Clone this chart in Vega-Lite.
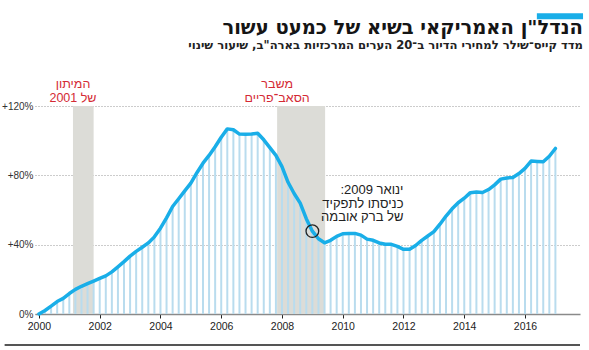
{
  "$schema": "https://vega.github.io/schema/vega-lite/v6.json",
  "width": 545,
  "height": 208,
  "autosize": {"type": "none"},
  "padding": {"left": 35, "top": 106, "right": 9, "bottom": 36},
  "background": "white",
  "config": {
    "view": {"stroke": null},
    "font": "Liberation Sans",
    "axis": {"labelFont": "Liberation Sans", "labelColor": "#333"}
  },
  "title": {
    "text": "הנדל\"ן האמריקאי בשיא של כמעט עשור",
    "subtitle": "מדד קייס־שילר למחירי הדיור ב־20 הערים המרכזיות בארה\"ב, שיעור שינוי",
    "anchor": "end",
    "orient": "top",
    "frame": "group",
    "font": "DejaVu Sans",
    "fontSize": 19.5,
    "fontWeight": "bold",
    "color": "#151515",
    "subtitleFont": "DejaVu Sans",
    "subtitleFontSize": 11.6,
    "subtitleFontWeight": "bold",
    "subtitleColor": "#222",
    "subtitlePadding": 1,
    "offset": -39,
    "dx": 3
  },
  "datasets": {
    "index": [
      {"year": 2000.0, "value": 0},
      {"year": 2000.2, "value": 2.0},
      {"year": 2000.4, "value": 4.5},
      {"year": 2000.6, "value": 7.2},
      {"year": 2000.8, "value": 9.0},
      {"year": 2001.0, "value": 11.8},
      {"year": 2001.2, "value": 14.2},
      {"year": 2001.4, "value": 16.0},
      {"year": 2001.6, "value": 17.5},
      {"year": 2001.8, "value": 19.0},
      {"year": 2002.0, "value": 20.5},
      {"year": 2002.2, "value": 22.0},
      {"year": 2002.4, "value": 24.3},
      {"year": 2002.6, "value": 27.2},
      {"year": 2002.8, "value": 30.2},
      {"year": 2003.0, "value": 33.4},
      {"year": 2003.2, "value": 36.1},
      {"year": 2003.4, "value": 38.5},
      {"year": 2003.6, "value": 41.0},
      {"year": 2003.8, "value": 44.5},
      {"year": 2004.0, "value": 49.5},
      {"year": 2004.2, "value": 55.5},
      {"year": 2004.4, "value": 62.0},
      {"year": 2004.6, "value": 66.5},
      {"year": 2004.8, "value": 71.0},
      {"year": 2005.0, "value": 75.5},
      {"year": 2005.2, "value": 81.5},
      {"year": 2005.4, "value": 87.0},
      {"year": 2005.6, "value": 91.5},
      {"year": 2005.8, "value": 96.5},
      {"year": 2006.0, "value": 102.0},
      {"year": 2006.2, "value": 106.8},
      {"year": 2006.4, "value": 106.3},
      {"year": 2006.6, "value": 103.8},
      {"year": 2006.8, "value": 103.7},
      {"year": 2007.0, "value": 103.8},
      {"year": 2007.2, "value": 104.3},
      {"year": 2007.4, "value": 100.5},
      {"year": 2007.6, "value": 96.0},
      {"year": 2007.8, "value": 91.5},
      {"year": 2008.0, "value": 85.0},
      {"year": 2008.2, "value": 76.0},
      {"year": 2008.4, "value": 69.5},
      {"year": 2008.6, "value": 64.0},
      {"year": 2008.8, "value": 55.0},
      {"year": 2009.0, "value": 47.8},
      {"year": 2009.2, "value": 43.4},
      {"year": 2009.4, "value": 41.1},
      {"year": 2009.6, "value": 42.5},
      {"year": 2009.8, "value": 44.8},
      {"year": 2010.0, "value": 46.3},
      {"year": 2010.2, "value": 46.5},
      {"year": 2010.4, "value": 46.5},
      {"year": 2010.6, "value": 45.5},
      {"year": 2010.8, "value": 43.2},
      {"year": 2011.0, "value": 42.5},
      {"year": 2011.2, "value": 41.0},
      {"year": 2011.4, "value": 40.2},
      {"year": 2011.6, "value": 40.2},
      {"year": 2011.8, "value": 39.0},
      {"year": 2012.0, "value": 37.3},
      {"year": 2012.2, "value": 37.3},
      {"year": 2012.4, "value": 39.5},
      {"year": 2012.6, "value": 42.5},
      {"year": 2012.8, "value": 45.0},
      {"year": 2013.0, "value": 47.5},
      {"year": 2013.2, "value": 51.8},
      {"year": 2013.4, "value": 56.5},
      {"year": 2013.6, "value": 60.7},
      {"year": 2013.8, "value": 64.2},
      {"year": 2014.0, "value": 66.8},
      {"year": 2014.2, "value": 70.0},
      {"year": 2014.4, "value": 70.4},
      {"year": 2014.6, "value": 70.1},
      {"year": 2014.8, "value": 71.8},
      {"year": 2015.0, "value": 74.5},
      {"year": 2015.2, "value": 77.8},
      {"year": 2015.4, "value": 78.5},
      {"year": 2015.6, "value": 78.8},
      {"year": 2015.8, "value": 81.0},
      {"year": 2016.0, "value": 84.0},
      {"year": 2016.2, "value": 88.2},
      {"year": 2016.4, "value": 88.0},
      {"year": 2016.6, "value": 87.8},
      {"year": 2016.8, "value": 91.0},
      {"year": 2017.0, "value": 95.5}
    ],
    "recessions": [
      {"start": 2001.12, "end": 2001.8, "label": ["המיתון", "של 2001"]},
      {"start": 2007.84, "end": 2009.42, "label": ["משבר", "הסאב־פריים"]}
    ]
  },
  "layer": [
    {
      "data": {"name": "recessions"},
      "mark": {"type": "rect", "color": "#dcdcd7"},
      "encoding": {
        "x": {"field": "start", "type": "quantitative", "scale": {"domain": [1999.87, 2017.81], "nice": false, "zero": false},
          "axis": {"values": [2000, 2002, 2004, 2006, 2008, 2010, 2012, 2014, 2016], "format": "d", "title": null, "grid": false,
            "domainColor": "#8a8a8a", "domainWidth": 1.5, "tickColor": "#222", "tickSize": 4, "tickWidth": 1, "labelFontSize": 10.5, "labelPadding": 3, "labelColor": "#222"}},
        "x2": {"field": "end"},
        "y": {"datum": 0, "type": "quantitative", "scale": {"domain": [0, 120], "nice": false},
          "axis": {"values": [0, 20, 40, 60, 80, 100, 120], "labelExpr": "datum.value == 0 ? '0%' : '+' + datum.value + '%'", "title": null,
            "labelOverlap": false, "labelBound": false,
            "domain": false, "ticks": false, "grid": true, "gridDash": [1, 2], "gridColor": "#999", "gridWidth": 1, "labelFontSize": 10, "labelPadding": 2, "labelColor": "#333"}},
        "y2": {"datum": 120}
      }
    },
    {
      "data": {"name": "recessions"},
      "mark": {"type": "text", "color": "#d42a34", "fontSize": 12.5, "lineHeight": 14, "align": "center", "baseline": "alphabetic", "clip": false, "font": "Liberation Sans"},
      "encoding": {
        "x": {"field": "start", "type": "quantitative"},
        "x2": {"field": "end"},
        "y": {"datum": 130.5, "type": "quantitative"},
        "text": {"field": "label"}
      }
    },
    {
      "data": {"name": "index"},
      "mark": {"type": "rule", "color": "#b9dcee", "strokeWidth": 2},
      "encoding": {
        "x": {"field": "year", "type": "quantitative"},
        "y": {"field": "value", "type": "quantitative"},
        "y2": {"datum": 0}
      }
    },
    {
      "data": {"name": "index"},
      "mark": {"type": "line", "color": "#19aee8", "strokeWidth": 3.5, "strokeJoin": "round", "strokeCap": "round"},
      "encoding": {
        "x": {"field": "year", "type": "quantitative"},
        "y": {"field": "value", "type": "quantitative"}
      }
    },
    {
      "data": {"values": [{"year": 2009.0, "value": 47.8}]},
      "mark": {"type": "point", "shape": "circle", "filled": false, "stroke": "#222", "strokeWidth": 1.3, "size": 160, "opacity": 1},
      "encoding": {
        "x": {"field": "year", "type": "quantitative"},
        "y": {"field": "value", "type": "quantitative"}
      }
    },
    {
      "data": {"values": [{"year": 2012.0, "value": 69.2, "note": ["ינואר 2009:\u200f", "כניסתו לתפקיד", "של ברק אובמה"]}]},
      "mark": {"type": "text", "color": "#222", "fontSize": 13, "lineHeight": 13.5, "align": "right", "baseline": "alphabetic", "font": "Liberation Sans"},
      "encoding": {
        "x": {"field": "year", "type": "quantitative"},
        "y": {"field": "value", "type": "quantitative"},
        "text": {"field": "note"}
      }
    },
    {
      "data": {"values": [{"from": 2016.39, "to": 2017.91, "low": 170, "high": 173.5}]},
      "mark": {"type": "rect", "color": "#19aee8", "clip": false},
      "encoding": {
        "x": {"field": "from", "type": "quantitative"},
        "x2": {"field": "to"},
        "y": {"field": "low", "type": "quantitative"},
        "y2": {"field": "high"}
      }
    },
    {
      "data": {"values": [{"from": 1998.87, "to": 2017.81, "level": -17.9}]},
      "mark": {"type": "rule", "color": "#555", "strokeWidth": 2, "clip": false},
      "encoding": {
        "x": {"field": "from", "type": "quantitative"},
        "x2": {"field": "to"},
        "y": {"field": "level", "type": "quantitative"}
      }
    }
  ]
}
